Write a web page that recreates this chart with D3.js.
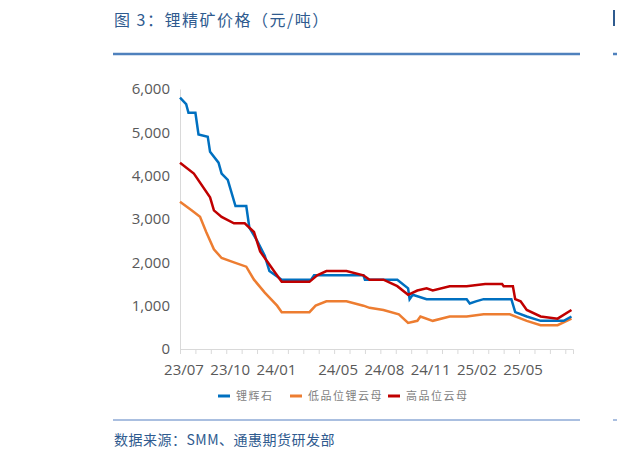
<!DOCTYPE html>
<html><head><meta charset="utf-8">
<script src="https://cdn.jsdelivr.net/npm/d3@7"></script>
<style>body{margin:0;background:#fff}</style>
</head><body><div id="chart"></div>
<script>
// month offsets from 2023/07 and prices (元/吨)
const spodMonths = [0,0.4,0.55,1.0,1.2,1.8,1.95,2.5,2.7,3.1,3.6,4.3,4.5,5.0,5.5,5.8,6.6,8.5,8.7,11.9,12.0,14.1,14.8,14.9,15.1,16.0,18.6,18.8,19.2,19.7,21.5,21.75,22.5,23.4,24.9,25.4];
const spodValues = [5800,5650,5450,5450,4950,4900,4550,4300,4050,3900,3300,3300,2800,2500,2150,1800,1600,1600,1700,1700,1600,1600,1400,1150,1250,1150,1150,1050,1100,1150,1150,850,750,650,650,750];
const lowMonths = [0,0.75,1.3,1.7,2.2,2.7,3.5,4.3,4.8,5.5,6.3,6.6,8.4,8.8,9.5,10.8,11.9,12.3,13.2,14.2,14.8,15.4,15.6,16.4,17.5,18.6,19.7,21.4,22.5,23.4,24.5,25.4];
const lowValues = [3400,3200,3050,2700,2300,2100,2000,1900,1600,1300,1000,850,850,1000,1100,1100,1000,950,900,800,600,650,750,650,750,750,800,800,650,550,550,700];
const highMonths = [0,0.9,1.95,2.2,2.7,3.5,4.2,4.8,5.2,5.8,6.2,6.6,8.4,8.9,9.5,10.8,11.9,12.3,13.2,14.1,14.8,15.4,16.0,16.4,17.5,18.6,19.8,20.9,21.0,21.6,21.75,22.1,22.5,23.4,24.5,25.4];
const highValues = [4300,4050,3500,3200,3050,2900,2900,2700,2250,1950,1750,1550,1550,1700,1800,1800,1700,1600,1600,1450,1250,1350,1400,1350,1450,1450,1500,1500,1450,1450,1150,1100,900,750,700,900];
const seriesNames = ["锂辉石","低品位锂云母","高品位云母"];
const seriesColors = ["#0070c0","#ed7d31","#c00000"];
const tickLabels = ["23/07","23/10","24/01","24/05","24/08","24/11","25/02","25/05"];
const tickMonths = [0,3,6,10,13,16,19,22];
const yTicks = [0,1000,2000,3000,4000,5000,6000];

const W = 617, H = 459;
const svg = d3.select("#chart").append("svg").attr("width", W).attr("height", H);
const font = "'Noto Sans CJK SC', sans-serif";

svg.append("text").attr("x", 114).attr("y", 26).attr("fill", "#2f5b8f")
  .style("font", `16px ${font}`).style("letter-spacing", "1.5px").text("图 3：锂精矿价格（元/吨）");
svg.append("line").attr("x1", 113).attr("x2", 580).attr("y1", 54).attr("y2", 54)
  .attr("stroke", "#4f81bd").attr("stroke-width", 2.5);
svg.append("line").attr("x1", 613).attr("x2", 617).attr("y1", 54).attr("y2", 54)
  .attr("stroke", "#4f81bd").attr("stroke-width", 2.5);
svg.append("rect").attr("x", 613).attr("y", 10).attr("width", 2).attr("height", 16).attr("fill", "#2f5b8f");

const x = d3.scaleLinear().domain([0, 25.5]).range([180, 573]);
const y = d3.scaleLinear().domain([0, 6000]).range([349, 89]);

const yAxis = svg.append("g").attr("transform", "translate(180,0)")
  .call(d3.axisLeft(y).tickValues(yTicks).tickFormat(d3.format(",")).tickSize(0).tickPadding(10));
yAxis.select(".domain").attr("stroke", "#d9d9d9");
yAxis.selectAll("text").attr("fill", "#595959").style("font", "15px 'Open Sans', sans-serif");

const xAxis = svg.append("g").attr("transform", "translate(0,349)")
  .call(d3.axisBottom(x).tickValues(d3.range(0, 26)).tickFormat("").tickSize(5));
xAxis.selectAll("line, path").attr("stroke", "#d9d9d9");
svg.append("g").selectAll("text").data(tickLabels).join("text")
  .attr("x", (d, i) => x(tickMonths[i]) + 4).attr("y", 375).attr("text-anchor", "middle")
  .attr("fill", "#595959").style("font", "15px 'Open Sans', sans-serif").text(d => d);

const line = d3.line().x(d => x(d[0])).y(d => y(d[1]));
const series = [[spodMonths, spodValues], [lowMonths, lowValues], [highMonths, highValues]];
[1, 0, 2].forEach(i => {
  const pts = d3.zip(series[i][0], series[i][1]);
  svg.append("path").datum(pts).attr("d", line).attr("fill", "none")
    .attr("stroke", seriesColors[i]).attr("stroke-width", 2.5);
});

const legX = [218, 290, 388];
seriesNames.forEach((n, i) => {
  svg.append("line").attr("x1", legX[i]).attr("x2", legX[i] + 12).attr("y1", 396).attr("y2", 396)
    .attr("stroke", seriesColors[i]).attr("stroke-width", 3);
  svg.append("text").attr("x", legX[i] + 18).attr("y", 400).attr("fill", "#7f7f7f")
    .style("font", `11px ${font}`).style("letter-spacing", "1.5px").text(n);
});

svg.append("line").attr("x1", 113).attr("x2", 580).attr("y1", 420).attr("y2", 420)
  .attr("stroke", "#8eaad6").attr("stroke-width", 1.5);
svg.append("line").attr("x1", 613).attr("x2", 617).attr("y1", 420).attr("y2", 420)
  .attr("stroke", "#8eaad6").attr("stroke-width", 1.5);
svg.append("text").attr("x", 114).attr("y", 445).attr("fill", "#2f5b8f")
  .style("font", `14px ${font}`).style("letter-spacing", "0.5px").text("数据来源：SMM、通惠期货研发部");
</script></body></html>
